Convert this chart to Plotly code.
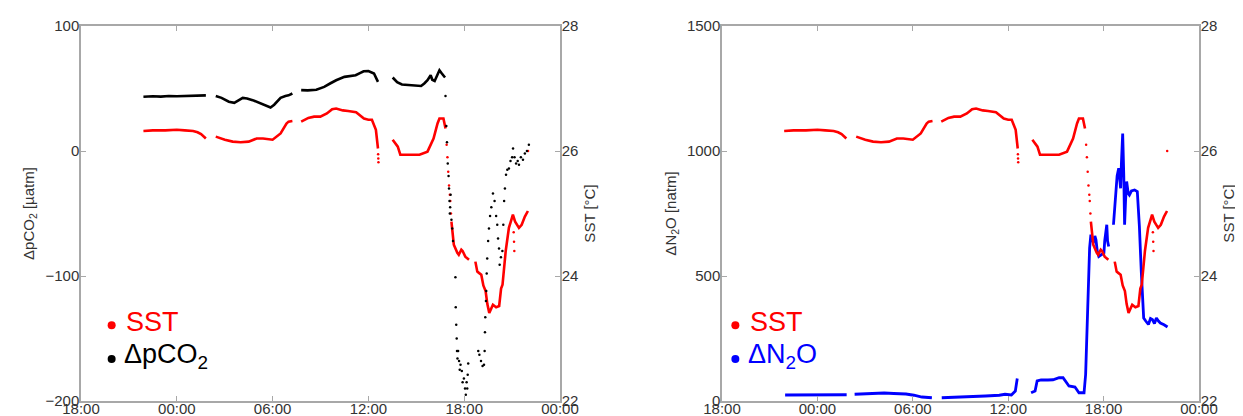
import plotly.graph_objects as go

# ---------------- data (hours relative to 00:00 of day 1) ----------------
N = None
sst_t = [-2.09, -1.5, -0.72, 0, 0.5, 1.02, 1.3, 1.52, 1.82, N,
         2.44, 3.01, 3.5, 4.0, 4.5, 5.0, 5.4, 5.75, 6.0, 6.5, 6.87, 7.0, 7.24, N,
         7.79, 8.24, 8.6, 8.99, 9.4, 9.73, 9.98, 10.4, 10.73, 11.23, 11.72, 12.0, 12.22, 12.47, 12.6, N,
         13.52, 13.7, 13.84, 14.0, 14.2, 14.7, 15.2, 15.7, 16.08, 16.33, 16.45, 16.7, 16.83, N,
         17.2, 17.35, 17.57, 17.66, 17.82, 17.9, 18.07, 18.3, N,
         18.7, 18.82, 18.92, 19.07, 19.2, 19.34, 19.45, 19.57, 19.8, 20.0, 20.19, 20.31, 20.4, 20.6,
         20.8, 21.05, 21.19, 21.43, 21.6, 21.8, 21.99]
sst_v = [26.32, 26.33, 26.33, 26.34, 26.33, 26.32, 26.3, 26.27, 26.2, N,
         26.23, 26.18, 26.15, 26.14, 26.15, 26.2, 26.2, 26.19, 26.18, 26.28, 26.44, 26.47, 26.48, N,
         26.47, 26.53, 26.55, 26.55, 26.6, 26.67, 26.68, 26.65, 26.64, 26.62, 26.52, 26.5, 26.5, 26.34, 26.04, N,
         26.18, 26.12, 26.07, 25.94, 25.94, 25.95, 25.94, 25.99, 26.2, 26.44, 26.52, 26.52, 26.36, N,
         24.87, 24.5, 24.37, 24.34, 24.42, 24.4, 24.31, 24.26, N,
         24.23, 24.07, 24.05, 24.02, 23.85, 23.76, 23.55, 23.41, 23.54, 23.5, 23.52, 23.8, 23.86, 24.4,
         24.77, 24.98, 24.87, 24.77, 24.82, 24.95, 25.04]
# sparse SST dots (steep drops and outliers)
sst_dot_t = [12.61, 12.62, 12.63, 16.9, 16.95, 17.0, 17.05, 17.1, 17.13, 17.17, 21.1, 21.12, 21.14, 22.0]
sst_dot_v = [25.95, 25.88, 25.82, 26.1, 25.9, 25.67, 25.45, 25.3, 25.2, 25.0, 24.7, 24.55, 24.4, 26.0]

pco2_t = [-2.09, -1.5, -1.0, -0.5, 0, 0.5, 1.0, 1.5, 1.82, N,
          2.44, 2.8, 3.26, 3.6, 4.13, 4.4, 4.75, 5.2, 5.6, 5.87, 6.1, 6.5, 6.8, 7.0, 7.24, N,
          7.79, 8.2, 8.74, 9.23, 9.6, 9.98, 10.5, 10.9, 11.2, 11.5, 11.7, 12.0, 12.35, 12.6, N,
          13.52, 13.8, 14.1, 14.4, 14.7, 15.0, 15.3, 15.5, 15.7, 15.9, 16.0, 16.15, 16.3, 16.45, 16.6, 16.8]
pco2_v = [43.4, 43.8, 43.5, 44, 43.8, 44, 43.8, 44, 44.5, N,
          44, 42.5, 39.4, 38.5, 42.5, 42, 40.7, 38.5, 36.5, 34.8, 37, 42.5, 44, 44.5, 46, N,
          48.7, 48.5, 49, 51.3, 54, 56.6, 59.3, 60, 60.6, 62.5, 63.8, 64, 62, 55.3, N,
          58.8, 55, 53.2, 53, 52.7, 52.5, 52, 54, 56.6, 60.6, 57, 56, 61, 64.6, 62, 58.8]
pco2_dot_t = [16.83, 16.88, 16.92, 16.97, 17.02, 17.05, 17.08, 17.1, 17.12, 17.15, 17.2, 17.25, 17.3,
              17.45, 17.47, 17.5, 17.53, 17.55, 17.58, 17.62, 17.68, 17.72, 17.77, 17.85, 17.9, 17.98,
              18.05, 18.1, 18.15, 18.19, 18.22, 18.25,
              18.88, 18.95, 19.05, 19.15, 19.24, 19.28, 19.3, 19.32, 19.36, 19.38, 19.41, 19.44, 19.5,
              19.55, 19.62, 19.7, 19.8, 19.9, 20.0, 20.07, 20.12, 20.18, 20.22, 20.3, 20.39, 20.45, 20.5,
              20.55, 20.62, 20.7, 20.8, 20.9, 21.0, 21.06, 21.15, 21.25, 21.35, 21.43, 21.55, 21.68,
              21.8, 21.93, 22.05]
pco2_dot_v = [44, 20, 7, -10, -20, -30, -40, -50, -45, -35, -55, -62, -72,
              -101, -125, -139, -150, -160, -166, -160, -168, -175, -171, -176, -185, -182,
              -190, -195, -185, -190, -179, -170,
              -160, -163, -168, -172, -171, -160, -145, -133, -120, -112, -98, -86, -72,
              -62, -52, -45, -34, -40, -52, -59, -70, -78, -91, -85, -80, -59, -40,
              -30, -19, -15, -14, -8, -5, 2, -5, -10, -8, -11, -5, -7,
              -2, 0, 5]

n2o_t = [-2.03, -1, 0, 1, 1.84, N,
         2.34, 3.0, 3.58, 4.2, 4.8, 5.57, 6.07, 6.57, 7.2, N,
         7.82, 8.5, 9.32, 10, 10.57, 11.44, 11.8, 12.2, 12.45, 12.57, N,
         13.44, 13.69, 13.82, 14.07, 14.5, 14.82, 15.2, 15.45, 15.82, 16.2, 16.45, 16.77, 16.87, 16.95,
         17.02, 17.08, 17.12, 17.2, 17.3, 17.37, 17.45, 17.52, 17.6, 17.7, 17.87, 18.02, 18.07, 18.2,
         18.25, 18.32, N,
         18.62, 18.7, 18.77, 18.85, 18.95, 19.0, 19.07, 19.12, 19.2, 19.27, 19.32, 19.38, 19.45, 19.55,
         19.62, 19.75, 19.95, 20.12, 20.25, 20.37, 20.45, 20.52, 20.65, 20.82, 20.95, 21.07, 21.2,
         21.32, 21.45, 21.57, 21.8, 22.02]
n2o_v = [24, 25, 25, 25, 25, N,
         27, 29, 31, 32, 30, 28, 23, 16, 13, N,
         13, 14, 16, 18, 20, 23, 27, 24, 40, 90, N,
         33, 40, 80, 84, 84, 85, 93, 93, 60, 56, 33, 33, 106, 250,
         372, 520, 612, 665, 640, 638, 660, 645, 600, 578, 585, 592, 640, 705,
         640, 618, N,
         705, 780, 824, 900, 931, 880, 851, 950, 1070, 900, 705, 800, 878, 830,
         824, 840, 844, 838, 700, 518, 400, 332, 320, 306, 330, 326, 310,
         332, 320, 312, 305, 296]

x_ticks = [-6, 0, 6, 12, 18, 24]
x_labels = ["18:00", "00:00", "06:00", "12:00", "18:00", "00:00"]

# ---------------- figure ----------------
RED = "#ff0000"
BLACK = "#000000"
BLUE = "#0000ff"
AX = "#a8a8a8"
TXT = "#333333"
FONT = "Liberation Sans, Arial, sans-serif"

fig = go.Figure()
# left panel: SST on y (right side), pCO2 on y2 (left side, drawn on top)
fig.add_trace(go.Scatter(x=sst_t, y=sst_v, mode="lines", line=dict(color=RED, width=2.6),
                         xaxis="x", yaxis="y", showlegend=False, connectgaps=False))
fig.add_trace(go.Scatter(x=sst_dot_t, y=sst_dot_v, mode="markers", marker=dict(color=RED, size=2.5),
                         xaxis="x", yaxis="y", showlegend=False))
fig.add_trace(go.Scatter(x=pco2_t, y=pco2_v, mode="lines", line=dict(color=BLACK, width=2.6),
                         xaxis="x", yaxis="y2", showlegend=False, connectgaps=False))
fig.add_trace(go.Scatter(x=pco2_dot_t, y=pco2_dot_v, mode="markers", marker=dict(color=BLACK, size=2.5),
                         xaxis="x", yaxis="y2", showlegend=False))
# right panel: N2O on y3 (left), SST on y4 (right, drawn on top)
fig.add_trace(go.Scatter(x=n2o_t, y=n2o_v, mode="lines", line=dict(color=BLUE, width=2.8),
                         xaxis="x2", yaxis="y3", showlegend=False, connectgaps=False))
fig.add_trace(go.Scatter(x=sst_t, y=sst_v, mode="lines", line=dict(color=RED, width=2.6),
                         xaxis="x2", yaxis="y4", showlegend=False, connectgaps=False))
fig.add_trace(go.Scatter(x=sst_dot_t, y=sst_dot_v, mode="markers", marker=dict(color=RED, size=2.5),
                         xaxis="x2", yaxis="y4", showlegend=False))

L_LEFT, L_RIGHT, R_LEFT, R_RIGHT = 73, 552, 714, 1191
W = 1243
ml, mr = L_LEFT, W - R_RIGHT
pw = W - ml - mr
d1 = (L_RIGHT - ml) / pw
d2 = (R_LEFT - ml) / pw

tickfont = dict(family=FONT, size=15, color=TXT)
titlefont = dict(family=FONT, size=15, color=TXT)

def xax(domain, anchor):
    return dict(domain=domain, anchor=anchor, range=[-6, 24], tickmode="array", tickvals=x_ticks,
                ticktext=x_labels, ticks="inside", ticklen=5, tickcolor=AX, showline=True,
                linecolor=AX, linewidth=1.5, mirror="ticks", showgrid=False, zeroline=False,
                tickfont=tickfont, automargin=False, ticklabelstandoff=-7)

def yax(rng, dtick, side, title, anchor, standoff, overlaying=None):
    d = dict(range=rng, dtick=dtick, tick0=rng[0], side=side, anchor=anchor, ticks="inside", ticklen=5,
             tickcolor=AX, showline=True, linecolor=AX, linewidth=1.5, showgrid=False,
             zeroline=False, tickfont=tickfont, automargin=False, ticklabelstandoff=standoff,
             title=dict(text=title, font=titlefont, standoff=7))
    if overlaying:
        d["overlaying"] = overlaying
    else:
        d["domain"] = [0, 1]
    return d

fig.update_layout(
    width=W, height=416,
    margin=dict(l=ml, r=mr, t=18, b=23),
    paper_bgcolor="white", plot_bgcolor="white",
    font=dict(family=FONT, color=TXT),
    xaxis=xax([0, d1], "y"),
    xaxis2=xax([d2, 1], "y3"),
    yaxis=yax([22, 28], 2, "right", "SST [°C]", "x", -3),
    yaxis2=yax([-200, 100], 100, "left", "ΔpCO<sub>2</sub> [µatm]", "x", -3, overlaying="y"),
    yaxis3=yax([0, 1500], 500, "left", "ΔN<sub>2</sub>O [natm]", "x2", -3),
    yaxis4=yax([22, 28], 2, "right", "SST [°C]", "x2", -3, overlaying="y3"),
    showlegend=False,
)

# legend-like labels inside each panel
legend_items = [
    ("x domain", "y2 domain", 0.064, 0.090, 0.21, "SST", RED),
    ("x domain", "y2 domain", 0.064, 0.086, 0.12, "ΔpCO<sub>2</sub>", BLACK),
    ("x2 domain", "y3 domain", 0.028, 0.055, 0.21, "SST", RED),
    ("x2 domain", "y3 domain", 0.028, 0.050, 0.12, "ΔN<sub>2</sub>O", BLUE),
]
for xr, yr, xd, xt, yy, txt, col in legend_items:
    fig.add_shape(type="circle", xref=xr, yref=yr, xsizemode="pixel", ysizemode="pixel",
                  xanchor=xd, yanchor=yy - 0.008, x0=-4, x1=4, y0=-4, y1=4,
                  fillcolor=col, line=dict(width=0))
    fig.add_annotation(xref=xr, yref=yr, x=xt, y=yy, text=txt, showarrow=False,
                       xanchor="left", yanchor="middle", font=dict(family=FONT, size=27, color=col))

fig.write_html("out.html")
